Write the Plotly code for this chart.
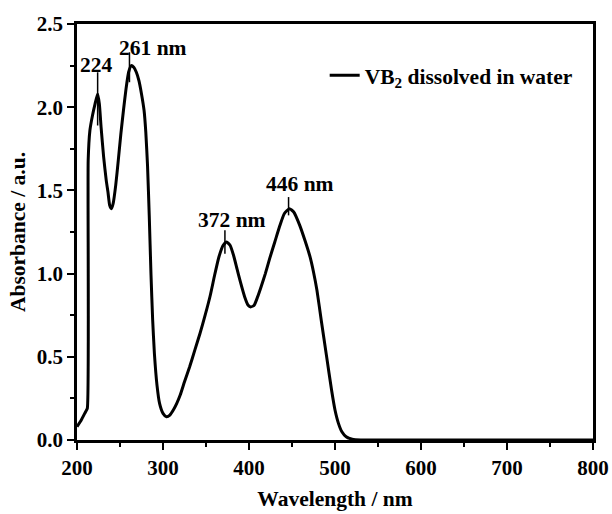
import plotly.graph_objects as go

# ---- data ----
wavelength = [200, 205, 210, 212, 213, 215, 218, 221, 224, 226, 228, 231, 234, 236, 238, 240,
              242, 245, 248, 251, 254, 257, 260, 263, 266, 269, 272, 275, 278, 280, 282, 284,
              286, 288, 290, 293, 296, 300, 304, 308, 312, 316, 320, 325, 331, 337, 343, 349,
              355, 360, 365, 370, 374, 378, 382, 386, 390, 395, 399, 402, 406, 410, 414, 419,
              424, 430, 436, 441, 447, 452, 459, 465, 471, 475, 479, 484, 490, 496, 500, 504,
              508, 513, 520, 530, 540, 600, 700, 800]
absorbance = [0.08, 0.12, 0.17, 0.19, 1.68, 1.86, 1.95, 2.02, 2.08, 2.02, 1.88, 1.70, 1.56, 1.49, 1.41, 1.39,
              1.42, 1.53, 1.68, 1.84, 1.98, 2.11, 2.21, 2.25, 2.24, 2.21, 2.16, 2.08, 1.98, 1.85, 1.65, 1.35,
              1.00, 0.72, 0.52, 0.33, 0.22, 0.16, 0.14, 0.15, 0.18, 0.22, 0.27, 0.35, 0.44, 0.54, 0.64, 0.75,
              0.87, 0.99, 1.10, 1.17, 1.19, 1.17, 1.11, 1.03, 0.95, 0.86, 0.81, 0.80, 0.81, 0.86, 0.92, 1.00,
              1.09, 1.19, 1.29, 1.36, 1.39, 1.37, 1.29, 1.20, 1.10, 1.01, 0.90, 0.72, 0.51, 0.30, 0.18, 0.10,
              0.05, 0.02, 0.005, 0.0, 0.0, 0.0, 0.0, 0.0]

series_name = "VB<sub>2</sub> dissolved in water"

peak_labels = ["224", "261 nm", "372 nm", "446 nm"]
peak_wl = [224, 261, 372, 446]
peak_abs = [2.08, 2.25, 1.19, 1.39]

x_ticks = [200, 300, 400, 500, 600, 700, 800]
y_ticks = [0.0, 0.5, 1.0, 1.5, 2.0, 2.5]

# ---- styling ----
FONT = "Liberation Serif"
marker_span = [(0.19, 0.13), (0.10, 0.08), (0.07, 0.07), (0.04, 0.07)]  # (below, above)
label_shift = [(-1, 29), (23.5, 18), (7, 22), (11, 25)]                 # (xshift, yshift) px

fig = go.Figure()
fig.add_trace(go.Scatter(
    x=wavelength, y=absorbance, mode="lines", name=series_name,
    line=dict(color="black", width=3, shape="spline", smoothing=0.5),
))

for lab, wl, ab, (dn, up), (dx, dy) in zip(peak_labels, peak_wl, peak_abs, marker_span, label_shift):
    fig.add_shape(type="line", xref="x", yref="y", x0=wl, x1=wl, y0=ab - dn, y1=ab + up,
                  line=dict(color="black", width=1.5))
    fig.add_annotation(x=wl, y=ab, text=lab, showarrow=False, xanchor="center", yanchor="middle",
                       xshift=dx, yshift=dy,
                       font=dict(family=FONT, size=21.5, color="black", weight="bold"))

axis_common = dict(
    showline=True, linecolor="black", linewidth=2.5, mirror=True,
    ticks="outside", ticklen=7, tickwidth=2, tickcolor="black",
    showgrid=False, zeroline=False,
    tickfont=dict(family=FONT, size=21, color="black", weight="bold"),
    automargin=False,
)

fig.update_xaxes(
    range=[200, 800], tickvals=x_ticks, ticktext=[str(v) for v in x_ticks],
    minor=dict(dtick=50, ticklen=4, tickwidth=2, tickcolor="black", ticks="outside"),
    title=dict(text="Wavelength / nm", standoff=12,
               font=dict(family=FONT, size=21.5, color="black", weight="bold")),
    **axis_common,
)
fig.update_yaxes(
    range=[0, 2.5], tickvals=y_ticks, ticktext=[f"{v:.1f}" for v in y_ticks],
    minor=dict(dtick=0.25, ticklen=4, tickwidth=2, tickcolor="black", ticks="outside"),
    title=dict(text="Absorbance / a.u.", standoff=6,
               font=dict(family=FONT, size=21.5, color="black", weight="bold")),
    **axis_common,
)

fig.update_layout(
    width=612, height=514,
    margin=dict(l=77, r=19, t=24, b=74),
    paper_bgcolor="white", plot_bgcolor="white",
    showlegend=True,
    legend=dict(x=0.48, y=0.877, xanchor="left", yanchor="middle",
                bgcolor="rgba(0,0,0,0)", borderwidth=0,
                font=dict(family=FONT, size=21.5, color="black", weight="bold")),
)

fig.write_html("out.html")
